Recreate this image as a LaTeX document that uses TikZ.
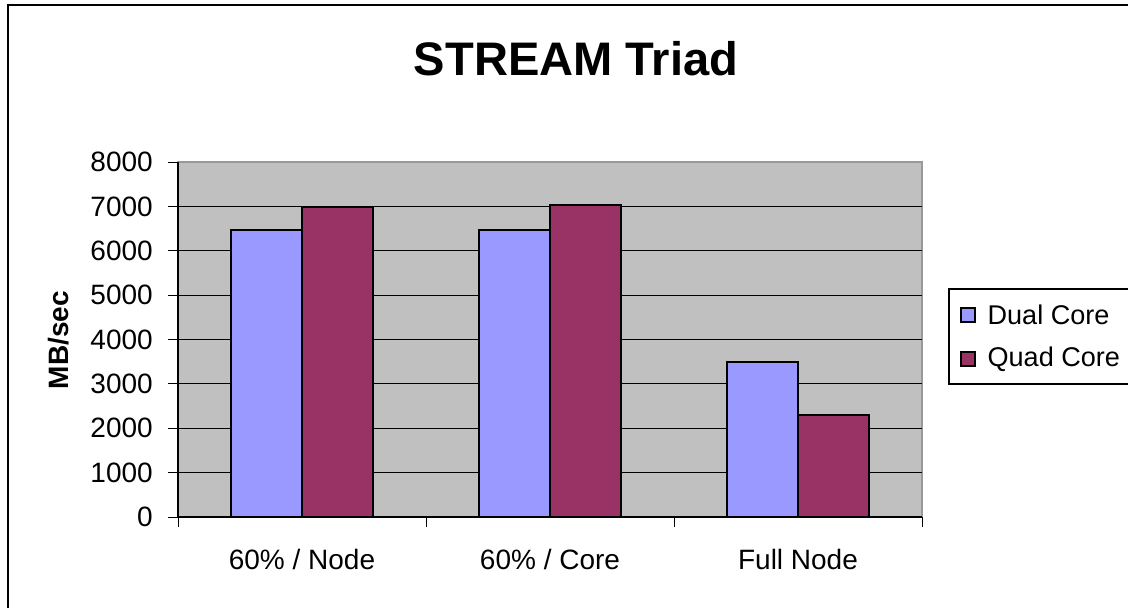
\documentclass[tikz,border=0pt]{standalone}
\usepackage{fontspec}
\setmainfont{Liberation Sans}
\usetikzlibrary{positioning}
\usepackage{xcolor}
\definecolor{dualcol}{HTML}{9999FF}
\definecolor{quadcol}{HTML}{993366}
\definecolor{plotbg}{HTML}{C0C0C0}

\begin{document}
\begin{tikzpicture}[
        x=0.75pt, y=-0.75pt,
        ticklabel/.style={inner sep=0pt, font=\fontsize{21}{25}\selectfont},
        bar/.style={draw=black, line width=1.5pt},
        grid line/.style={black, line width=0.75pt},
        legendkey/.style={draw=black, line width=0.9pt, minimum size=10.5pt, inner sep=0pt},
        legendtext/.style={inner sep=0pt, font=\fontsize{20.3}{24}\selectfont}
    ]
        % Frame
        \clip (0,0) rectangle (1128,607);
        \draw [line width=1.5pt] (8,5) rectangle (1300,700);

        % Plot area
        \draw [fill=plotbg, draw=gray!80, line width=1pt] (178,162) rectangle (922,517);
        \foreach \v in {1000,2000,...,7000}
            \draw [grid line] (178,{517-\v*0.044375}) -- (922,{517-\v*0.044375});

        % Bars
        \foreach \i/\d/\q in {0/6460/6980, 1/6460/7030, 2/3490/2300} {
            \draw [bar, fill=dualcol] ({231+248*\i},517) rectangle ({302+248*\i},{517-\d*0.044375});
            \draw [bar, fill=quadcol] ({302+248*\i},517) rectangle ({373+248*\i},{517-\q*0.044375});
        }

        % Axes
        \draw [black, line width=1pt] (178,162) -- (178,517) -- (922,517);
        \foreach \v in {0,1000,...,8000} {
            \draw [black, line width=0.75pt] (168,{517-\v*0.044375}) -- (178,{517-\v*0.044375});
            \node (y\v) [ticklabel, anchor=east] at (153,{517-\v*0.044375}) {\v};
        }
        \foreach \i in {0,1,2,3}
            \draw [black, line width=0.75pt] ({178+248*\i},517) -- ({178+248*\i},527);

        % Labels
        \node (c1) [ticklabel] at (302,559) {60\% / Node};
        \node (c2) [ticklabel] at (550,559) {60\% / Core};
        \node (c3) [ticklabel] at (798,559) {Full Node};
        \node (title) [inner sep=0pt, anchor=base, font=\fontsize{35.3}{40}\selectfont\bfseries] at (576,75) {STREAM Triad};
        \node (ylabel) [inner sep=0pt, rotate=90, font=\fontsize{21}{25}\selectfont\bfseries] at (59,340) {MB/sec};

        % Legend
        \draw [fill=white, line width=0.9pt] (949,289) rectangle (1300,384);
        \node (dualkey) [legendkey, fill=dualcol] at (968,315) {};
        \node (quadkey) [legendkey, fill=quadcol] at (968,359) {};
        \node (dualtext) [legendtext, right=14.5pt of dualkey.center, anchor=west] {Dual Core};
        \node (quadtext) [legendtext, right=14.5pt of quadkey.center, anchor=west] {Quad Core};
    \end{tikzpicture}
\end{document}
